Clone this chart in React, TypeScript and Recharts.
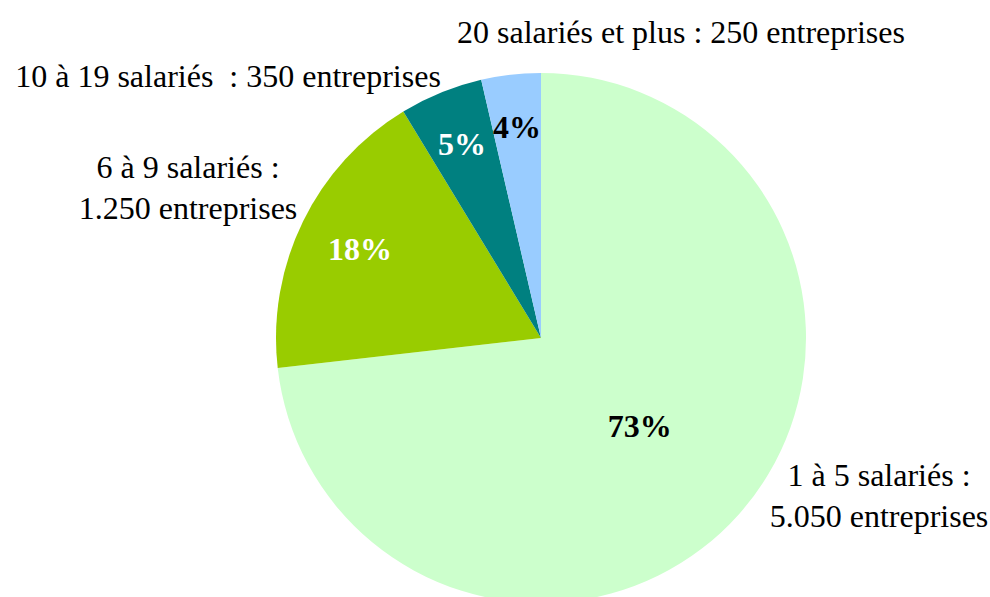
import React from "react";
import { PieChart, Pie, Cell } from "recharts";

const categories = ["1 à 5 salariés", "6 à 9 salariés", "10 à 19 salariés", "20 salariés et plus"];
const companyCounts = [5050, 1250, 350, 250];
const countLabels = ["5.050", "1.250", "350", "250"];
const sliceColors = ["#CCFFCC", "#99CC00", "#008080", "#99CCFF"];
const percentColors = ["#000000", "#FFFFFF", "#FFFFFF", "#000000"];

// layout of the labels (relative to pie centre)
const percentRadiusFactor = [0.5, 0.76, 0.79, 0.8];
const outerLabelLayout = [
  { dx: 338, dy: 148, twoLines: true, sep: " :" },
  { dx: -353, dy: -160, twoLines: true, sep: " :" },
  { dx: -313, dy: -251, twoLines: false, sep: "  :" },
  { dx: 140, dy: -295, twoLines: false, sep: " :" },
];

const data = categories.map((name, i) => ({ name, value: companyCounts[i], countLabel: countLabels[i] }));

const FONT = "'Liberation Serif', 'Times New Roman', serif";
const RAD = Math.PI / 180;
const FS = 32;
const LINE = 41;

const renderLabel = (props: any) => {
  const { cx, cy, midAngle, outerRadius, percent, index } = props;
  const r = outerRadius * percentRadiusFactor[index];
  const px = cx + r * Math.cos(-midAngle * RAD);
  const py = cy + r * Math.sin(-midAngle * RAD);
  const lay = outerLabelLayout[index];
  const d = data[index];
  const line1 = lay.twoLines ? `${d.name}${lay.sep}` : `${d.name}${lay.sep} ${d.countLabel} entreprises`;
  const line2 = `${d.countLabel} entreprises`;
  return (
    <g>
      <text
        x={px}
        y={py}
        textAnchor="middle"
        dominantBaseline="central"
        fill={percentColors[index]}
        fontFamily={FONT}
        fontSize={FS}
        fontWeight="bold"
      >
        {`${Math.round(percent * 100)}%`}
      </text>
      <text
        x={cx + lay.dx}
        y={cy + lay.dy}
        textAnchor="middle"
        fill="#000000"
        fontFamily={FONT}
        fontSize={FS}
        style={{ whiteSpace: "pre" }}
      >
        {line1}
      </text>
      {lay.twoLines && (
        <text
          x={cx + lay.dx}
          y={cy + lay.dy + LINE}
          textAnchor="middle"
          fill="#000000"
          fontFamily={FONT}
          fontSize={FS}
        >
          {line2}
        </text>
      )}
    </g>
  );
};

export default function App() {
  return (
    <div style={{ position: "absolute", left: 0, top: 0, width: 990, height: 597, background: "#fff" }}>
      <PieChart width={990} height={597} margin={{ top: 0, right: 0, bottom: 0, left: 0 }}>
        <Pie
          data={data}
          dataKey="value"
          nameKey="name"
          cx={541}
          cy={338}
          outerRadius={265}
          startAngle={90}
          endAngle={-270}
          stroke="none"
          label={renderLabel}
          labelLine={false}
          isAnimationActive={false}
        >
          {data.map((d, i) => (
            <Cell key={d.name} fill={sliceColors[i]} />
          ))}
        </Pie>
      </PieChart>
    </div>
  );
}
